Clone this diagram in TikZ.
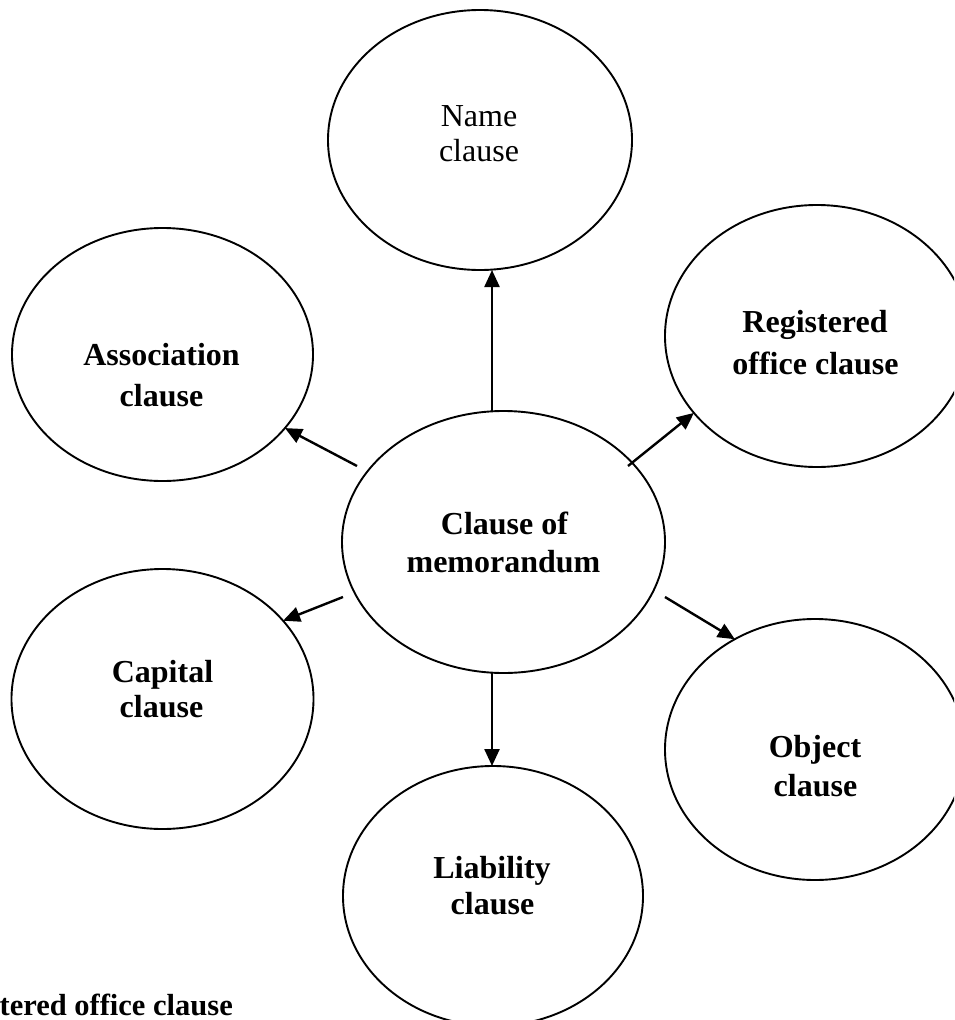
\documentclass[tikz,border=0pt]{standalone}
\usepackage{fontspec}
\setmainfont{Liberation Serif}
\usetikzlibrary{shapes.geometric,arrows.meta}
\begin{document}
\begin{tikzpicture}[x=1pt,y=-1pt,
  bubble/.style={ellipse, draw=black, line width=1.9pt, inner sep=0pt, outer sep=0pt},
  lbl/.style={anchor=base, inner sep=0pt, font=\fontsize{32}{38}\selectfont\bfseries},
  lblr/.style={anchor=base, inner sep=0pt, font=\fontsize{32}{38}\selectfont},
  arr/.style={draw=black, line width=2.4pt, -{Triangle[length=17pt,width=15pt]}}]
\useasboundingbox (0,0) rectangle (954,1020);
\clip (0,0) rectangle (954,1020);
\fill[white] (0,0) rectangle (954,1020);

% ellipses
\node[bubble, minimum width=304pt, minimum height=260pt] (name) at (480,140) {};
\node[bubble, minimum width=301pt, minimum height=253pt] (assoc) at (162.5,354.5) {};
\node[bubble, minimum width=304pt, minimum height=262pt] (reg) at (817,336) {};
\node[bubble, minimum width=323pt, minimum height=262pt] (mem) at (503.5,542) {};
\node[bubble, minimum width=302pt, minimum height=260pt] (cap) at (162.5,699) {};
\node[bubble, minimum width=300pt, minimum height=261pt] (obj) at (815,749.5) {};
\node[bubble, minimum width=300pt, minimum height=260pt] (liab) at (493,896) {};

% labels
\node[lblr] (nameA) at (479,126) {Name};
\node[lblr] (nameB) at (479,161) {clause};
\node[lbl] (assocA) at (161.5,365) {Association};
\node[lbl] (assocB) at (161.5,406) {clause};
\node[lbl] (regA) at (815,332) {Registered};
\node[lbl] (regB) at (815.5,374) {office clause};
\node[lbl] (memA) at (504.5,534) {Clause of};
\node[lbl] (memB) at (503.5,572) {memorandum};
\node[lbl] (capA) at (162.5,682) {Capital};
\node[lbl] (capB) at (161.5,717) {clause};
\node[lbl] (liabA) at (492,878) {Liability};
\node[lbl] (liabB) at (492.5,914) {clause};
\node[lbl] (objA) at (815,757) {Object};
\node[lbl] (objB) at (815.5,796) {clause};
\node[lbl, anchor=base east, font=\fontsize{30.5}{36}\selectfont\bfseries] (foot) at (233,1015) {tered office clause};

% arrow start points
\coordinate (sName) at (492,411);
\coordinate (sLiab) at (492,673);
\coordinate (sAssoc) at (357,466);
\coordinate (sReg) at (628,466);
\coordinate (sCap) at (343,597);
\coordinate (sObj) at (665,597);

\draw[arr] (sName) -- (sName |- name.south);
\draw[arr] (sLiab) -- (sLiab |- liab.north);
\draw[arr] (sAssoc) -- (assoc.-31);
\draw[arr] (sReg) -- (reg.212);
\draw[arr] (sCap) -- (cap.33.5);
\draw[arr] (sObj) -- (obj.126);
\end{tikzpicture}
\end{document}
